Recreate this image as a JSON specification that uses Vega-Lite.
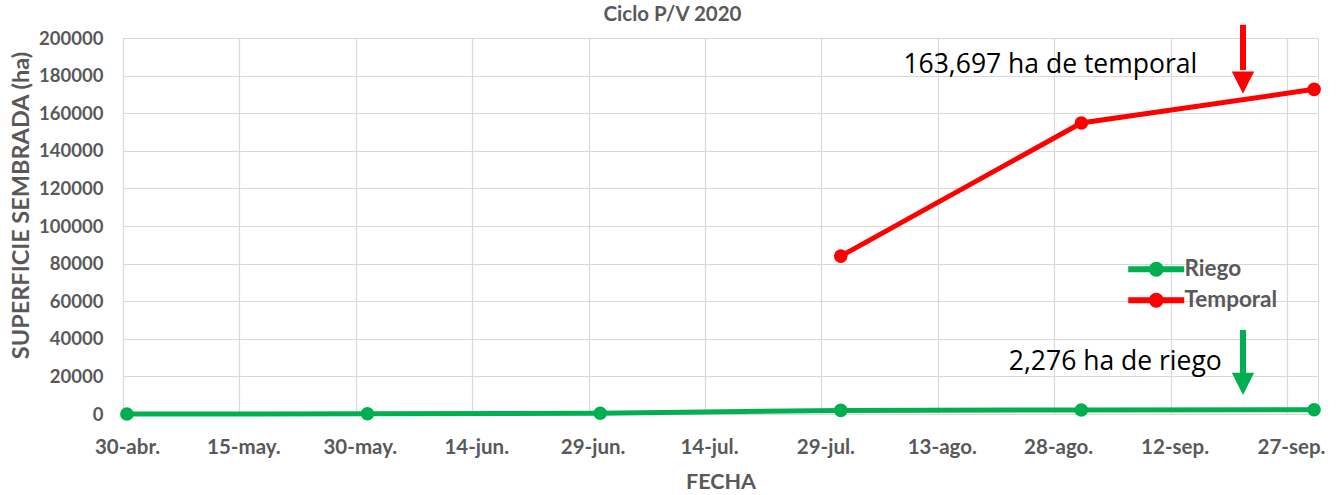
{
  "$schema": "https://vega.github.io/schema/vega-lite/v6.json",
  "autosize": {"type": "none"},
  "padding": {"left": 123, "top": 38, "right": 22, "bottom": 81},
  "width": 1195,
  "height": 376,
  "background": "white",
  "title": {"text": "Ciclo P/V 2020", "font": "Lato", "fontSize": 20.5, "fontWeight": "bold", "color": "#595959", "offset": -4, "dx": -48},
  "config": {
    "view": {"stroke": "#D9D9D9", "strokeWidth": 1},
    "axis": {"labelFont": "Lato", "titleFont": "Lato", "labelColor": "#595959", "titleColor": "#595959", "labelFontWeight": "bold", "titleFontWeight": "bold", "gridColor": "#D9D9D9", "gridWidth": 1.2, "domain": false, "ticks": false, "labelOverlap": false, "labelFlush": false}
  },
  "datasets": {
    "series": [
      {"fecha": "2020-04-30", "serie": "Riego", "superficie": 0},
      {"fecha": "2020-05-31", "serie": "Riego", "superficie": 100},
      {"fecha": "2020-06-30", "serie": "Riego", "superficie": 400},
      {"fecha": "2020-07-31", "serie": "Riego", "superficie": 1900},
      {"fecha": "2020-08-31", "serie": "Riego", "superficie": 2150},
      {"fecha": "2020-09-30", "serie": "Riego", "superficie": 2276},
      {"fecha": "2020-07-31", "serie": "Temporal", "superficie": 84000},
      {"fecha": "2020-08-31", "serie": "Temporal", "superficie": 154800},
      {"fecha": "2020-09-30", "serie": "Temporal", "superficie": 172700}
    ],
    "flechas": [
      {"fecha": "2020-09-21T08:00:00Z", "serie": "Temporal", "inicio": 207000, "base": 183000, "punta": 176300},
      {"fecha": "2020-09-21T08:00:00Z", "serie": "Riego", "inicio": 44700, "base": 21800, "punta": 16000}
    ],
    "notas": [
      {"fecha": "2020-08-27T12:00:00Z", "valor": 185500, "texto": "163,697 ha de temporal"},
      {"fecha": "2020-09-04T21:00:00Z", "valor": 27600, "texto": "2,276 ha de riego"}
    ]
  },
  "layer": [
    {
      "data": {"name": "series"},
      "mark": {"type": "line", "strokeWidth": 5, "point": {"filled": true, "size": 185, "opacity": 1}},
      "encoding": {
        "x": {
          "field": "fecha", "type": "temporal", "timeUnit": "utcyearmonthdate", "bandPosition": 0.5,
          "scale": {"type": "utc", "nice": false, "domain": [{"year": 2020, "month": 4, "date": 30, "utc": true}, {"year": 2020, "month": 10, "date": 1, "utc": true}]},
          "axis": {
            "title": "FECHA", "titleFontSize": 21.5, "titlePadding": 14, "labelFontSize": 20.5, "labelPadding": 23, "labelOffset": 4, "tickCount": 40,
            "values": [
              {"year": 2020, "month": 4, "date": 30, "utc": true},
              {"year": 2020, "month": 5, "date": 15, "utc": true},
              {"year": 2020, "month": 5, "date": 30, "utc": true},
              {"year": 2020, "month": 6, "date": 14, "utc": true},
              {"year": 2020, "month": 6, "date": 29, "utc": true},
              {"year": 2020, "month": 7, "date": 14, "utc": true},
              {"year": 2020, "month": 7, "date": 29, "utc": true},
              {"year": 2020, "month": 8, "date": 13, "utc": true},
              {"year": 2020, "month": 8, "date": 28, "utc": true},
              {"year": 2020, "month": 9, "date": 12, "utc": true},
              {"year": 2020, "month": 9, "date": 27, "utc": true}
            ],
            "labelExpr": "utcdate(datum.value) + '-' + ['ene.','feb.','mar.','abr.','may.','jun.','jul.','ago.','sep.','oct.','nov.','dic.'][utcmonth(datum.value)]"
          }
        },
        "y": {
          "field": "superficie", "type": "quantitative",
          "scale": {"domain": [0, 200000], "nice": false},
          "axis": {"title": "SUPERFICIE SEMBRADA (ha)", "titleFontSize": 23.5, "titleX": -90, "titleY": 167, "labelFontSize": 18.5, "labelPadding": 20, "format": "d", "tickCount": 20, "values": [0, 20000, 40000, 60000, 80000, 100000, 120000, 140000, 160000, 180000, 200000]}
        },
        "color": {
          "field": "serie", "type": "nominal",
          "scale": {"domain": ["Riego", "Temporal"], "range": ["#00B050", "#FF0000"]},
          "legend": {
            "title": null, "orient": "none", "legendX": 1022, "legendY": 220,
            "symbolType": "M-4,0L4,0M-0.64,0A0.64,0.64,0,1,1,0.64,0A0.64,0.64,0,1,1,-0.64,0Z",
            "symbolSize": 196, "symbolStrokeWidth": 6, "labelOffset": 17, "rowPadding": -3,
            "labelFont": "Lato", "labelFontSize": 22.5, "labelFontWeight": "bold", "labelColor": "#595959",
            "encode": {"symbols": {"update": {"fill": {"scale": "color", "field": "value"}, "stroke": {"scale": "color", "field": "value"}, "fillOpacity": {"value": 1}, "opacity": {"value": 1}}}}
          }
        }
      }
    },
    {
      "data": {"name": "flechas"},
      "mark": {"type": "rule", "strokeWidth": 6},
      "encoding": {
        "x": {"field": "fecha", "type": "temporal"},
        "y": {"field": "inicio", "type": "quantitative"},
        "y2": {"field": "base"},
        "color": {"field": "serie", "type": "nominal", "legend": null}
      }
    },
    {
      "data": {"name": "flechas"},
      "mark": {"type": "point", "filled": true, "opacity": 1, "shape": "M-1,-1L1,-1L0,1Z", "size": 500},
      "encoding": {
        "x": {"field": "fecha", "type": "temporal"},
        "y": {"field": "punta", "type": "quantitative"},
        "color": {"field": "serie", "type": "nominal", "legend": null}
      }
    },
    {
      "data": {"name": "notas"},
      "mark": {"type": "text", "font": "Open Sans", "fontSize": 26.5, "color": "#000000", "align": "center", "baseline": "middle"},
      "encoding": {
        "x": {"field": "fecha", "type": "temporal"},
        "y": {"field": "valor", "type": "quantitative"},
        "text": {"field": "texto"}
      }
    }
  ]
}
